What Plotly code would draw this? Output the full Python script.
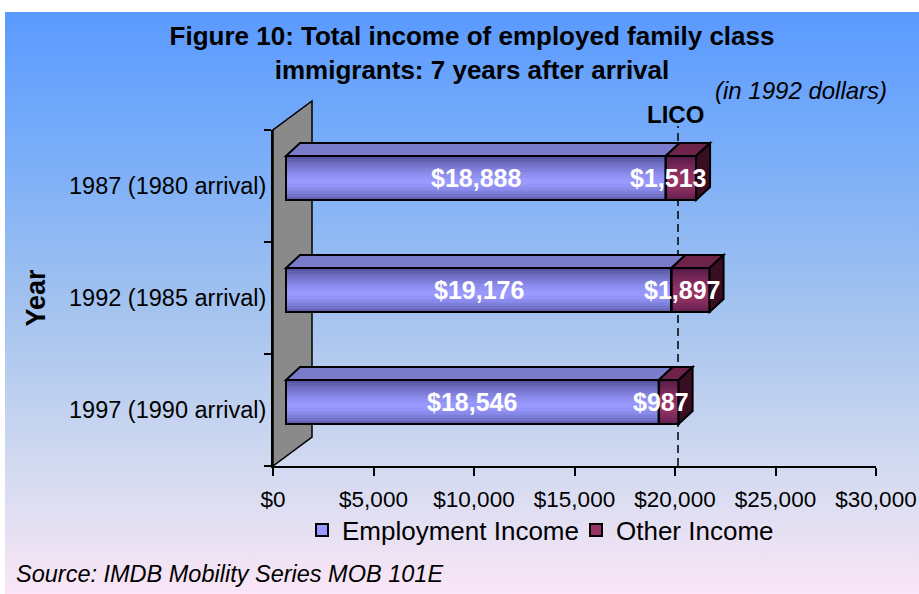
import base64
import plotly.graph_objects as go

# ---------------- data ----------------
years = ['1987 (1980 arrival)', '1992 (1985 arrival)', '1997 (1990 arrival)']
employment = [18888, 19176, 18546]
other = [1513, 1897, 987]
series_names = ['Employment Income', 'Other Income']
lico_value = 20150
x_tickvals = [0, 5000, 10000, 15000, 20000, 25000, 30000]
x_ticktext = ['$0', '$5,000', '$10,000', '$15,000', '$20,000', '$25,000', '$30,000']
title_text = '<b>Figure 10: Total income of employed family class<br>immigrants: 7 years after arrival</b>'
source_text = 'Source: IMDB Mobility Series MOB 101E'

# ---------------- geometry / style ----------------
W, H = 919, 594
ML, MR, MT, MB = 273, 43, 130, 128
plot_w = W - ML - MR
plot_h = H - MT - MB
xmax = 30000
ppu = plot_w / xmax                  # pixels per dollar
cat_order = years[::-1]              # bottom -> top
px_per_cat = plot_h / len(cat_order)
front_shift_px = 13                  # 3-D: bar front face sits right of the wall
bar_dx_px, bar_dy_px = 14, 13        # depth of the bars
wall_dx_px, wall_dy_px = 39, 29      # depth of the side wall
bar_w = 44 / px_per_cat
bar_up = 8 / px_per_cat
bar_offset = bar_up - bar_w / 2
ddx = bar_dx_px / ppu
ddy = bar_dy_px / px_per_cat
shift_units = front_shift_px / ppu

FONT = 'Arial, Liberation Sans, sans-serif'
EMP_COLOR = '#9999FF'
OTH_COLOR = '#993366'
EMP_TOP = '#7b7bcc'
OTH_TOP = '#6e2448'
OTH_SIDE = '#3a0e22'

fig = go.Figure()
fig.add_trace(go.Bar(
    y=years, x=employment, orientation='h', name=series_names[0],
    xaxis='x2', yaxis='y', width=bar_w, offset=bar_offset,
    marker=dict(color=EMP_COLOR, line=dict(color='black', width=2)),
    hoverinfo='x+y'))
fig.add_trace(go.Bar(
    y=years, x=other, orientation='h', name=series_names[1],
    xaxis='x2', yaxis='y', width=bar_w, offset=bar_offset,
    marker=dict(color=OTH_COLOR, line=dict(color='black', width=2)),
    hoverinfo='x+y'))

shapes = []
# side wall (decoration of the 3-D chart)
wx = wall_dx_px / plot_w
wy = wall_dy_px / plot_h
shapes.append(dict(type='path', xref='paper', yref='paper', layer='below',
                   path=f'M 0,0 L 0,1 L {wx},{1 + wy} L {wx},{wy} Z',
                   fillcolor='#8a8a8a', line=dict(color='black', width=1.5)))
# LICO line
shapes.append(dict(type='line', xref='x', yref='paper', layer='below',
                   x0=lico_value, x1=lico_value, y0=0, y1=(plot_h + 4) / plot_h,
                   line=dict(color='black', width=1.5, dash='8px,5px')))


def shade_alpha(t):
    # t: 0 at top of front face, 1 at bottom
    if t < 0.58:
        return 0.48 * (1 - t / 0.58) ** 1.4
    return 0.40 * ((t - 0.58) / 0.42) ** 1.6


annotations = []
N = 14
for lab, e, o in zip(years, employment, other):
    yc = cat_order.index(lab) + bar_up
    ytop = yc + bar_w / 2
    ybot = yc - bar_w / 2
    total = e + o
    for k in range(N):
        t0, t1 = k / N, (k + 1) / N
        a = shade_alpha((t0 + t1) / 2)
        shapes.append(dict(type='rect', xref='x2', yref='y', layer='above',
                           x0=0, x1=total, y0=ytop - t0 * bar_w, y1=ytop - t1 * bar_w,
                           fillcolor=f'rgba(0,0,40,{a:.3f})', line=dict(width=0)))
    for x0, x1 in ((0, e), (e, total)):
        shapes.append(dict(type='rect', xref='x2', yref='y', layer='above',
                           x0=x0, x1=x1, y0=ybot, y1=ytop,
                           line=dict(color='black', width=2)))
    shapes.append(dict(type='path', xref='x2', yref='y', layer='above',
                       path=f'M 0,{ytop} L {e},{ytop} L {e + ddx},{ytop + ddy} L {ddx},{ytop + ddy} Z',
                       fillcolor=EMP_TOP, line=dict(color='black', width=2)))
    shapes.append(dict(type='path', xref='x2', yref='y', layer='above',
                       path=f'M {e},{ytop} L {total},{ytop} L {total + ddx},{ytop + ddy} L {e + ddx},{ytop + ddy} Z',
                       fillcolor=OTH_TOP, line=dict(color='black', width=2)))
    shapes.append(dict(type='path', xref='x2', yref='y', layer='above',
                       path=f'M {total},{ybot} L {total},{ytop} L {total + ddx},{ytop + ddy} L {total + ddx},{ybot + ddy} Z',
                       fillcolor=OTH_SIDE, line=dict(color='black', width=2)))
    annotations.append(dict(xref='x2', yref='y', x=e / 2, y=yc, xanchor='center', yanchor='middle',
                            text=f'<b>${e:,}</b>', showarrow=False,
                            font=dict(family=FONT, size=25, color='white')))
    annotations.append(dict(xref='x2', yref='y', x=total + ddx, y=yc, xanchor='right', yanchor='middle',
                            xshift=-2, text=f'<b>${o:,}</b>', showarrow=False,
                            font=dict(family=FONT, size=25, color='white')))

annotations.append(dict(xref='x', yref='paper', x=lico_value, y=(466 - 115) / plot_h,
                        xanchor='center', yanchor='middle', xshift=-3,
                        text='<b>LICO</b>', showarrow=False,
                        font=dict(family=FONT, size=24, color='black')))
annotations.append(dict(xref='paper', yref='paper', x=(801 - ML) / plot_w, y=(466 - 90) / plot_h,
                        xanchor='center', yanchor='middle',
                        text='<i>(in 1992 dollars)</i>', showarrow=False,
                        font=dict(family=FONT, size=24, color='black')))
annotations.append(dict(xref='paper', yref='paper', x=(14 - ML) / plot_w, y=(466 - 574) / plot_h,
                        xanchor='left', yanchor='middle', text=f'<i>{source_text}</i>', showarrow=False,
                        font=dict(family=FONT, size=23.5, color='black')))

# background gradient
svg = ("<svg xmlns='http://www.w3.org/2000/svg' width='100' height='100' viewBox='0 0 100 100' "
       "preserveAspectRatio='none'><defs><linearGradient id='g' x1='0' y1='0' x2='0' y2='1'>"
       "<stop offset='0' stop-color='#5a9aff'/>"
       "<stop offset='0.25' stop-color='#7aaef8'/>"
       "<stop offset='0.5' stop-color='#a2c2ef'/>"
       "<stop offset='0.78' stop-color='#d2daf0'/>"
       "<stop offset='1' stop-color='#fae6f6'/>"
       "</linearGradient></defs><rect width='100' height='100' fill='url(#g)'/></svg>")
img_src = 'data:image/svg+xml;base64,' + base64.b64encode(svg.encode()).decode()
bg_left, bg_top = 5, 12

fig.update_layout(
    width=W, height=H,
    margin=dict(l=ML, r=MR, t=MT, b=MB, autoexpand=False),
    paper_bgcolor='white', plot_bgcolor='rgba(0,0,0,0)',
    barmode='stack', bargap=0.6,
    title=dict(text=title_text, x=472 / W, xanchor='center', y=1 - 45 / H, yanchor='top',
               font=dict(family=FONT, size=26, color='black')),
    font=dict(family=FONT, color='black'),
    xaxis=dict(range=[0, xmax], tickvals=x_tickvals, ticktext=x_ticktext,
               showgrid=False, zeroline=False, showline=True, linecolor='black', linewidth=2,
               ticks='outside', ticklen=8, tickwidth=2, tickcolor='black',
               ticklabelstandoff=4, tickfont=dict(family=FONT, size=22.5, color='black'),
               fixedrange=True),
    xaxis2=dict(overlaying='x', range=[-shift_units, xmax - shift_units], visible=False,
                fixedrange=True),
    yaxis=dict(type='category', categoryorder='array', categoryarray=cat_order,
               range=[-0.5, len(cat_order) - 0.5], showgrid=False, zeroline=False,
               showline=True, linecolor='black', linewidth=2,
               ticks='outside', tickson='boundaries', ticklen=7, tickwidth=2, tickcolor='black',
               tickfont=dict(family=FONT, size=23.5, color='black'),
               title=dict(text='<b>Year</b>', standoff=16,
                          font=dict(family=FONT, size=27, color='black')),
               fixedrange=True),
    legend=dict(orientation='h', x=(576 - ML) / plot_w, xanchor='center',
                y=(466 - 530) / plot_h, yanchor='middle',
                bgcolor='rgba(0,0,0,0)', font=dict(family=FONT, size=26, color='black'),
                itemwidth=30, traceorder='normal',
                entrywidth=229, entrywidthmode='pixels'),
    showlegend=True,
    shapes=shapes,
    annotations=annotations,
    images=[dict(source=img_src, xref='paper', yref='paper',
                 x=(bg_left - ML) / plot_w, y=(H - bg_top - MB) / plot_h,
                 sizex=(W - bg_left) / plot_w, sizey=(H - bg_top) / plot_h,
                 xanchor='left', yanchor='top', sizing='stretch', layer='below')],
)

fig.write_html('out.html', config={'displayModeBar': False},
               post_script="document.body.style.margin='0';")
